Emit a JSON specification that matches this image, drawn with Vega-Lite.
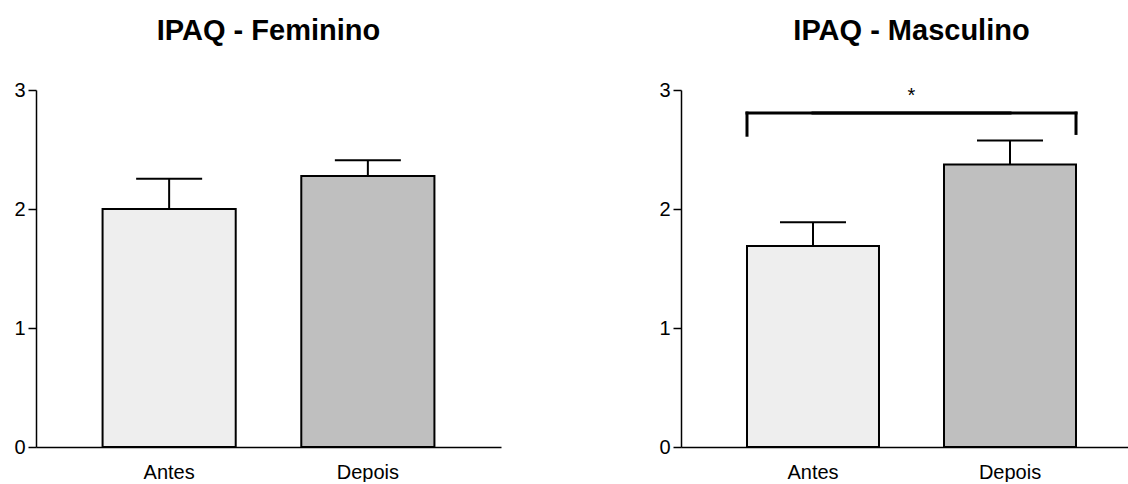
{
  "$schema": "https://vega.github.io/schema/vega-lite/v6.json",
  "background": "white",
  "padding": {"left": 13, "top": 17, "right": 0, "bottom": 0},
  "spacing": 157,
  "config": {
    "font": "Liberation Sans",
    "view": {"stroke": null},
    "title": {"fontSize": 29, "fontWeight": "bold", "font": "Liberation Sans", "color": "black", "anchor": "middle", "offset": 34},
    "axis": {"labelFont": "Liberation Sans", "labelFontSize": 20, "labelColor": "black", "domainColor": "black", "tickColor": "black", "grid": false, "title": null}
  },
  "hconcat": [
    {
      "title": "IPAQ - Feminino",
      "width": 465,
      "height": 357,
      "data": {"values": [
        {"grupo": "Antes", "media": 2.0, "sup": 2.255},
        {"grupo": "Depois", "media": 2.277, "sup": 2.41}
      ]},
      "encoding": {
        "x": {"field": "grupo", "type": "nominal", "sort": ["Antes", "Depois"],
          "scale": {"paddingInner": 0.33, "paddingOuter": 0.335},
          "axis": {"labelAngle": 0, "ticks": false, "labelPadding": 15, "domainWidth": 1.5}}
      },
      "layer": [
        {"mark": {"type": "rule", "stroke": "black", "strokeWidth": 2},
         "encoding": {"y": {"field": "media", "type": "quantitative"}, "y2": {"field": "sup"}}},
        {"mark": {"type": "tick", "orient": "horizontal", "size": 66, "thickness": 2, "color": "black", "opacity": 1},
         "encoding": {"y": {"field": "sup", "type": "quantitative"}}},
        {"mark": {"type": "bar", "stroke": "black", "strokeWidth": 2},
         "encoding": {
           "y": {"field": "media", "type": "quantitative",
             "scale": {"domain": [0, 3]},
             "axis": {"values": [0, 1, 2, 3], "format": "d", "tickSize": 8, "labelPadding": 3, "domainWidth": 1.5, "tickWidth": 1.5}},
           "color": {"field": "grupo", "type": "nominal", "scale": {"domain": ["Antes", "Depois"], "range": ["#eeeeee", "#bfbfbf"]}, "legend": null}
         }}
      ]
    },
    {
      "title": "IPAQ - Masculino",
      "width": 461,
      "height": 357,
      "layer": [
        {
          "data": {"values": [
            {"grupo": "Antes", "media": 1.69, "sup": 1.888},
            {"grupo": "Depois", "media": 2.375, "sup": 2.575}
          ]},
          "encoding": {
            "x": {"field": "grupo", "type": "nominal", "sort": ["Antes", "Depois"],
              "scale": {"domain": ["Antes", "Depois"], "paddingInner": 0.33, "paddingOuter": 0.335},
              "axis": {"labelAngle": 0, "ticks": false, "labelPadding": 15, "domainWidth": 1.5}}
          },
          "layer": [
            {"mark": {"type": "rule", "stroke": "black", "strokeWidth": 2},
             "encoding": {"y": {"field": "media", "type": "quantitative"}, "y2": {"field": "sup"}}},
            {"mark": {"type": "tick", "orient": "horizontal", "size": 66, "thickness": 2, "color": "black", "opacity": 1},
             "encoding": {"y": {"field": "sup", "type": "quantitative"}}},
            {"mark": {"type": "bar", "stroke": "black", "strokeWidth": 2},
             "encoding": {
               "y": {"field": "media", "type": "quantitative",
                 "scale": {"domain": [0, 3]},
                 "axis": {"values": [0, 1, 2, 3], "format": "d", "tickSize": 8, "labelPadding": 3, "domainWidth": 1.5, "tickWidth": 1.5}},
               "color": {"field": "grupo", "type": "nominal", "scale": {"domain": ["Antes", "Depois"], "range": ["#eeeeee", "#bfbfbf"]}, "legend": null}
             }},
            {"data": {"values": [{"grupo": "Antes", "base": 2.62, "topo": 2.806}]},
             "mark": {"type": "rule", "stroke": "black", "strokeWidth": 3, "strokeCap": "square"},
             "encoding": {"x": {"field": "grupo", "type": "nominal", "bandPosition": 0}, "y": {"field": "base", "type": "quantitative"}, "y2": {"field": "topo"}}},
            {"data": {"values": [{"grupo": "Depois", "base": 2.635, "topo": 2.806}]},
             "mark": {"type": "rule", "stroke": "black", "strokeWidth": 3, "strokeCap": "square"},
             "encoding": {"x": {"field": "grupo", "type": "nominal", "bandPosition": 1}, "y": {"field": "base", "type": "quantitative"}, "y2": {"field": "topo"}}},
            {"data": {"values": [{"de": "Antes", "ate": "Depois", "topo": 2.806}]},
             "mark": {"type": "rule", "stroke": "black", "strokeWidth": 3, "strokeCap": "square"},
             "encoding": {"x": {"field": "de", "type": "nominal", "bandPosition": 0}, "x2": {"field": "ate"}, "y": {"field": "topo", "type": "quantitative"}}},
            {"data": {"values": [{"de": "Depois", "ate": "Antes", "topo": 2.806}]},
             "mark": {"type": "rule", "stroke": "black", "strokeWidth": 3, "strokeCap": "square"},
             "encoding": {"x": {"field": "de", "type": "nominal", "bandPosition": 1}, "x2": {"field": "ate"}, "y": {"field": "topo", "type": "quantitative"}}}
          ]
        },
        {"data": {"values": [{"pos": 0.5, "nivel": 2.95, "rotulo": "*"}]},
         "mark": {"type": "text", "fontSize": 20, "color": "black", "baseline": "middle"},
         "encoding": {"x": {"field": "pos", "type": "quantitative", "scale": {"domain": [0, 1]}, "axis": null}, "y": {"field": "nivel", "type": "quantitative"}, "text": {"field": "rotulo"}}}
      ],
      "resolve": {"scale": {"x": "independent"}}
    }
  ]
}
